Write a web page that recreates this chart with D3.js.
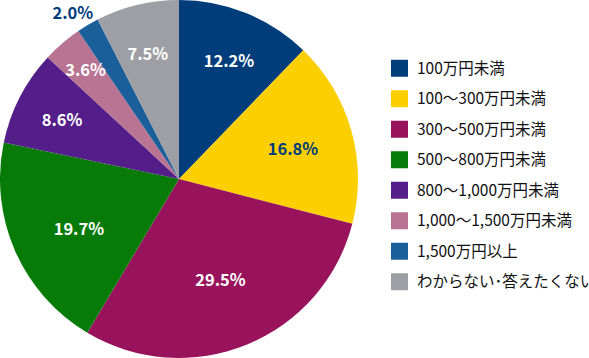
<!DOCTYPE html>
<html><head><meta charset="utf-8">
<script src="https://cdn.jsdelivr.net/npm/d3@7/dist/d3.min.js"></script>
<style>body{margin:0;background:#fff}svg{display:block}</style>
</head><body>
<svg id="c" width="589" height="358"></svg>
<script>
const categories = ["100万円未満","100～300万円未満","300～500万円未満","500～800万円未満","800～1,000万円未満","1,000～1,500万円未満","1,500万円以上","わからない･答えたくない"];
const values = [12.2,16.8,29.5,19.7,8.6,3.6,2.0,7.5];
const colors = ["#003d7a","#fccf00","#99135c","#077a07","#541e8a","#b97393","#1a5f9a","#9d9fa4"];
const labelColors = ["#fff","#003d7a","#fff","#fff","#fff","#fff","#003d7a","#fff"];
const labelRadius = [0.715,0.658,0.609,0.626,0.732,0.8,1.1,0.72];
const labelAngleShift = [1,1,0,-3,-0.5,0,-2,-0.5];

const svg = d3.select("#c");
const cx = 179, cy = 179, R = 179;
const g = svg.append("g").attr("transform",`translate(${cx},${cy})`);
const pie = d3.pie().sort(null).value(d=>d);
const arcs = pie(values);
const arc = d3.arc().innerRadius(0).outerRadius(R);
g.selectAll("path").data(arcs).join("path").attr("d",arc).attr("fill",(d,i)=>colors[i]);
g.selectAll("text").data(arcs).join("text")
  .attr("transform",(d,i)=>{const a=(d.startAngle+d.endAngle)/2 + labelAngleShift[i]*Math.PI/180, r=R*labelRadius[i];return `translate(${r*Math.sin(a)},${-r*Math.cos(a)})`;})
  .attr("text-anchor","middle").attr("dy","0.36em")
  .attr("font-family","'Noto Sans CJK JP'").attr("font-weight","bold").attr("font-size",16.5)
  .attr("fill",(d,i)=>labelColors[i])
  .text(d=>d.data.toFixed(1)+"%");

const y = d3.scaleBand().domain(categories).range([53,297]);
const lg = svg.append("g");
const rows = lg.selectAll("g").data(categories).join("g")
  .attr("transform",d=>`translate(391,${y(d)+y.bandwidth()/2})`);
rows.append("rect").attr("x",0).attr("y",-8.5).attr("width",17).attr("height",17).attr("fill",(d,i)=>colors[i]);
rows.append("text").attr("x",26).attr("dy","0.36em")
  .attr("font-family","'Noto Sans CJK JP'").attr("font-size",15.5).attr("fill","#111")
  .text(d=>d);
</script>
</body></html>
